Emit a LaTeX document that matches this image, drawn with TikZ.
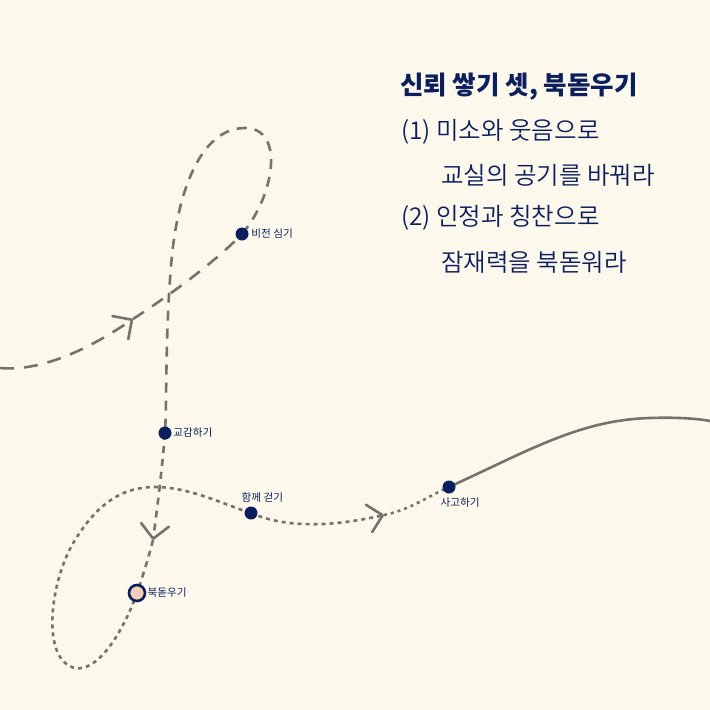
\documentclass[tikz,border=0pt]{standalone}
\usepackage{fontspec}
\newfontfamily\krfont{Noto Sans CJK KR}
\newfontfamily\krlight{Noto Sans CJK KR DemiLight}
\newfontfamily\krblack{Noto Sans CJK KR Black}
\usetikzlibrary{arrows.meta,backgrounds}
\definecolor{paper}{HTML}{FDF8EC}
\definecolor{ink}{HTML}{0C1F5C}
\definecolor{trail}{HTML}{77726A}
\definecolor{blush}{HTML}{F6CDB8}
\tikzset{
	trail/.style={draw=trail,line width=2.6pt},
	chevron/.style={-{Straight Barb[length=14pt,width=28pt,line width=2.6pt,round]}},
	stop/.style={circle,fill=ink,minimum size=13pt,inner sep=0pt},
	cheerstop/.style={circle,fill=blush,draw=ink,line width=2.6pt,minimum size=16pt,inner sep=0pt},
	stoplabel/.style={text=ink,font=\krfont\fontsize{10.6}{12}\selectfont,inner sep=1.5pt},
	headline/.style={text=ink,anchor=west,inner sep=0pt,font=\krlight\fontsize{24.5}{28}\selectfont}
}
\begin{document}
\begin{tikzpicture}[x=1pt,y=-1pt]
			\useasboundingbox (0,0) rectangle (710,710);
			\node[stop] (vision) at (242,234) {};
			\node[stop] (empathy) at (165,433) {};
			\node[stop] (together) at (251,513) {};
			\node[stop] (think) at (449,487) {};
			\node[cheerstop] (cheer) at (137,593) {};
			\coordinate (start) at (0,368);
			\coordinate (arrowA) at (133,319);
			\coordinate (arrowB) at (153,540);
			\coordinate (arrowC) at (384,515);
			\coordinate (top) at (245,128);
			\coordinate (bottom) at (75,668);
			\coordinate (rise) at (155,487);
			\coordinate (end) at (710,421);
			\begin{pgfonlayer}{background}
			\fill[paper] (0,0) rectangle (710,710);
			\draw[trail,dash pattern=on 14pt off 10pt,chevron] (start) .. controls (45,372) and (95,345) .. (arrowA);
			\draw[trail,dash pattern=on 13pt off 10pt] (arrowA) .. controls (170,295) and (215,262) .. (vision.center);
			\draw[trail,dash pattern=on 10pt off 8pt] (vision.center) .. controls (275,195) and (285,128) .. (top) .. controls (205,128) and (180,180) .. (172,255) .. controls (165,330) and (167,400) .. (empathy.center);
			\draw[trail,dash pattern=on 7pt off 6pt,chevron] (empathy.center) .. controls (162,470) and (157,510) .. (arrowB);
			\draw[trail,dash pattern=on 6pt off 5pt] (arrowB) .. controls (148,560) and (142,578) .. (cheer.center);
			\draw[trail,dash pattern=on 4pt off 4pt] (cheer.center) .. controls (120,640) and (95,672) .. (bottom) .. controls (40,660) and (50,580) .. (75,540) .. controls (100,500) and (125,487) .. (rise) .. controls (190,487) and (225,505) .. (together.center);
			\draw[trail,dash pattern=on 4pt off 4pt,chevron] (together.center) .. controls (290,530) and (340,525) .. (arrowC);
			\draw[trail,dash pattern=on 3pt off 4pt] (arrowC) .. controls (410,510) and (430,495) .. (think.center);
			\draw[trail] (think.center) .. controls (530,450) and (580,420) .. (650,418) .. controls (680,417) and (700,419) .. (end);
			\end{pgfonlayer}
			\node[stoplabel,anchor=west] at ([xshift=1pt]vision.east) {비전 심기};
			\node[stoplabel,anchor=west] at (empathy.east) {교감하기};
			\node[stoplabel,anchor=south west] at ([xshift=-11pt,yshift=2pt]together.north) {함께 걷기};
			\node[stoplabel,anchor=north west] at ([xshift=-10pt,yshift=-2pt]think.south) {사고하기};
			\node[stoplabel,anchor=west,inner sep=1pt] at (cheer.east) {북돋우기};
			\node[headline,font=\krblack\fontsize{25.5}{28}\selectfont] (title) at (400,87) {신뢰 쌓기 셋, 북돋우기};
			\node[headline] (lineA) at (401,132) {(1) 미소와 웃음으로};
			\node[headline] (lineB) at (441,175) {교실의 공기를 바꿔라};
			\node[headline] (lineC) at (401,218) {(2) 인정과 칭찬으로};
			\node[headline] (lineD) at (441,262) {잠재력을 북돋워라};
		\end{tikzpicture}
\end{document}
